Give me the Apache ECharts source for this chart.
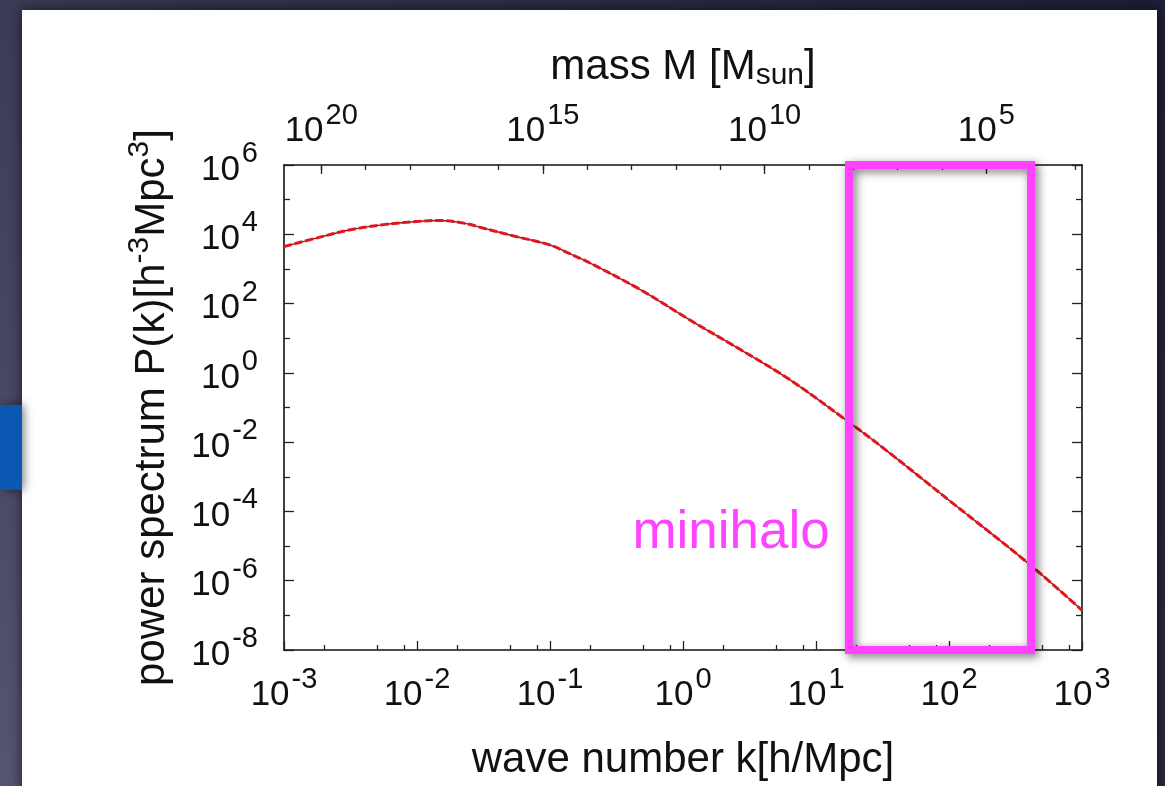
<!DOCTYPE html>
<html><head><meta charset="utf-8">
<script src="https://cdn.jsdelivr.net/npm/echarts@6/dist/echarts.min.js"></script>
<style>html,body{margin:0;padding:0;background:#2a2a44}#c{width:1165px;height:786px}</style>
</head><body><div id="c"></div>
<script>
// ---- data ----
const kValues = [0.001, 0.00178, 0.00316, 0.00562, 0.01, 0.0148, 0.0224, 0.0316, 0.0562, 0.1, 0.141, 0.2, 0.48, 1.12, 2.7, 6.3, 16.6, 33, 100, 390, 1000];
const pValues = [4.4e3, 7.9e3, 1.35e4, 1.9e4, 2.35e4, 2.5e4, 2.1e4, 1.5e4, 8.5e3, 4.9e3, 2.75e3, 1.48e3, 250, 34, 4.7, 0.65, 0.045, 6.2e-3, 2.1e-4, 3.3e-6, 1.4e-7];
const kExpRange = [-3, 3];          // k tick labels 10^-3 ... 10^3
const pExpRange = [-8, 6];          // P tick labels 10^-8 ... 10^6
const kMinorMantissas = [2, 5, 8];
const massLabelExps = [5, 10, 15, 20];
const massMinorExps = [3,4,5,6,7,8,9,10,11,12,13,14,15,16,17,18,19,20];
const logMassAtK1 = 11.84;          // log10 M [Msun] at k = 1 h/Mpc, M ∝ k^-3
const minihaloK = [17.7, 414];
const minihaloP = [1e6, 8.1e-9];
const minihaloText = 'minihalo';
const minihaloAnchor = [12.7, 2.4e-5];

// ---- build ----
const L = Math.log10;
const curve = kValues.map((k, i) => [L(k), L(pValues[i])]);
const kMinor = [];
for (let n = kExpRange[0]; n < kExpRange[1]; n++) kMinorMantissas.forEach(m => kMinor.push(n + L(m)));
const FONT = 'Liberation Sans, Arial, Helvetica, sans-serif';
const powRich = {
  b: {fontSize: 35, lineHeight: 35, padding: [10, 0, 0, 0], fontFamily: FONT, color: '#111'},
  s: {fontSize: 29, lineHeight: 29, padding: [0, 0, 22, 2], fontFamily: FONT, color: '#111'}
};
const powFmt = v => '{b|10}{s|' + Math.round(v) + '}';
const axisLine = {show: true, onZero: false, lineStyle: {color: '#111', width: 1.6}};
const noLine = {show: false, onZero: false};
const tickStyle = {color: '#222', width: 1.3};

const chart = echarts.init(document.getElementById('c'), null, {renderer: 'canvas'});
chart.setOption({
  animation: false,
  graphic: [
    {type: 'rect', z: -100, silent: true, shape: {x: 0, y: 0, width: 1165, height: 786},
      style: {fill: new echarts.graphic.LinearGradient(1, 0, 0, 1, [
        {offset: 0, color: '#1d1d36'}, {offset: 0.6, color: '#34344f'}, {offset: 1, color: '#55556f'}])}},
    {type: 'rect', z: -99, silent: true, shape: {x: 22, y: 10, width: 1135, height: 790},
      style: {fill: '#ffffff', shadowBlur: 12, shadowColor: 'rgba(0,0,0,0.6)'}},
    {type: 'rect', z: -98, silent: true, shape: {x: 0, y: 405, width: 22, height: 85},
      style: {fill: '#0b57b3', shadowBlur: 10, shadowColor: 'rgba(0,0,0,0.5)', shadowOffsetX: 2}}
  ],
  grid: {left: 284, top: 165, width: 798, height: 486, containLabel: false},
  xAxis: [
    {type: 'value', position: 'bottom', min: kExpRange[0], max: kExpRange[1], interval: 1,
      axisLine: axisLine, splitLine: {show: false},
      axisTick: {show: true, inside: true, length: 9, lineStyle: tickStyle},
      axisLabel: {formatter: powFmt, rich: powRich, margin: 23},
      name: 'wave number k[h/Mpc]', nameLocation: 'middle', nameGap: 89,
      nameTextStyle: {fontSize: 42, fontFamily: FONT, color: '#111'}},
    {type: 'value', position: 'bottom', min: kExpRange[0], max: kExpRange[1],
      axisLine: noLine, splitLine: {show: false}, axisLabel: {show: false},
      axisTick: {show: true, inside: true, length: 5, lineStyle: tickStyle, customValues: kMinor}},
    {type: 'value', position: 'top', inverse: true,
      min: logMassAtK1 - 3 * kExpRange[1], max: logMassAtK1 - 3 * kExpRange[0],
      axisLine: axisLine, splitLine: {show: false},
      axisTick: {show: true, inside: true, length: 9, lineStyle: tickStyle, customValues: massLabelExps},
      axisLabel: {formatter: powFmt, rich: powRich, margin: 21, customValues: massLabelExps},
      name: '{t|mass M [M}{u|sun}{t|]}', nameLocation: 'middle', nameGap: 77,
      nameTextStyle: {rich: {
        t: {fontSize: 42, lineHeight: 42, fontFamily: FONT, color: '#111'},
        u: {fontSize: 30, lineHeight: 30, padding: [18, 0, 0, 0], fontFamily: FONT, color: '#111'}}}},
    {type: 'value', position: 'top', inverse: true,
      min: logMassAtK1 - 3 * kExpRange[1], max: logMassAtK1 - 3 * kExpRange[0],
      axisLine: noLine, splitLine: {show: false}, axisLabel: {show: false},
      axisTick: {show: true, inside: true, length: 5, lineStyle: tickStyle, customValues: massMinorExps}}
  ],
  yAxis: [
    {type: 'value', position: 'left', min: pExpRange[0], max: pExpRange[1], interval: 2,
      axisLine: axisLine, splitLine: {show: false},
      axisTick: {show: true, inside: true, length: 10, lineStyle: tickStyle},
      minorTick: {show: true, splitNumber: 2, length: 6, lineStyle: tickStyle},
      axisLabel: {formatter: powFmt, rich: powRich, margin: 26},
      name: '{t|power spectrum P(k)[h}{s|-3}{t|Mpc}{s|3}{t|]}', nameLocation: 'middle', nameGap: 110,
      nameTextStyle: {rich: {
        t: {fontSize: 42, lineHeight: 42, fontFamily: FONT, color: '#111'},
        s: {fontSize: 30, lineHeight: 30, padding: [0, 0, 26, 0], fontFamily: FONT, color: '#111'}}}},
    {type: 'value', position: 'right', min: pExpRange[0], max: pExpRange[1], interval: 2,
      axisLine: axisLine, splitLine: {show: false}, axisLabel: {show: false},
      axisTick: {show: true, inside: true, length: 10, lineStyle: tickStyle},
      minorTick: {show: true, splitNumber: 2, length: 6, lineStyle: tickStyle}}
  ],
  series: [
    {type: 'line', xAxisIndex: 0, yAxisIndex: 0, data: curve, showSymbol: false, smooth: 0.35,
      silent: true, clip: false, z: 2,
      lineStyle: {color: '#7a2323', width: 1.4},
      markArea: {silent: true, z: 5,
        itemStyle: {color: 'rgba(0,0,0,0)', borderColor: '#ff42ff', borderWidth: 8,
          shadowBlur: 10, shadowColor: 'rgba(0,0,0,0.55)', shadowOffsetX: 3, shadowOffsetY: 3},
        label: {show: false},
        data: [[{coord: [L(minihaloK[0]), L(minihaloP[0])]}, {coord: [L(minihaloK[1]), L(minihaloP[1])]}]]},
      markPoint: {silent: true, symbol: 'circle', symbolSize: 0,
        label: {show: true, position: 'left', distance: 0, formatter: minihaloText,
          color: '#ff44ff', fontSize: 53, fontFamily: FONT},
        data: [{coord: [L(minihaloAnchor[0]), L(minihaloAnchor[1])]}]}},
    {type: 'line', xAxisIndex: 0, yAxisIndex: 0, data: curve, showSymbol: false, smooth: 0.35,
      silent: true, z: 3,
      lineStyle: {color: '#e8141c', width: 3, type: [8, 3]}}
  ]
});
</script></body></html>
